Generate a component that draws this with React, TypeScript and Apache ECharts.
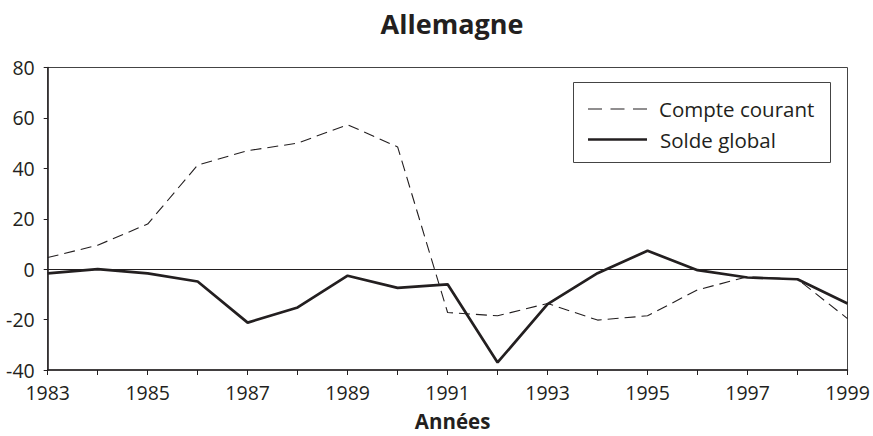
import React, { useEffect, useRef } from "react";
import * as echarts from "echarts";

const years = ["1983","1984","1985","1986","1987","1988","1989","1990","1991","1992","1993","1994","1995","1996","1997","1998","1999"];
const compteCourant = [4.6, 9.5, 17.9, 41.3, 47, 50, 57.3, 48.5, -17.2, -18.5, -13.6, -20.2, -18.5, -8.2, -3, -4, -19.6];
const soldeGlobal = [-1.7, 0, -1.7, -4.9, -21.2, -15.2, -2.6, -7.4, -6, -37, -13.9, -1.6, 7.3, -0.4, -3.3, -4, -13.6];
const yTicks = { min: -40, max: 80, interval: 20 };
const title = "Allemagne";
const xTitle = "Années";
const seriesNames = ["Compte courant", "Solde global"];

const FONT = "'Open Sans', 'Noto Sans', sans-serif";
const INK = "#231f20";

export default function App() {
  const ref = useRef<HTMLDivElement>(null);
  useEffect(() => {
    if (!ref.current) return;
    const chart = echarts.init(ref.current, null, { renderer: "svg" });
    chart.setOption({
      animation: false,
      backgroundColor: "#fff",
      title: {
        text: title,
        left: 447,
        textAlign: "center",
        top: 5,
        textStyle: { fontFamily: FONT, fontSize: 27, fontWeight: "bold", color: INK },
      },
      grid: { left: 47.7, right: 25.5, top: 67.5, bottom: 66, show: true, borderColor: "#444", borderWidth: 1, outerBoundsMode: "none", containLabel: false },
      xAxis: {
        type: "category",
        data: years,
        boundaryGap: false,
        name: xTitle,
        nameLocation: "middle",
        nameGap: 40,
        nameTextStyle: { fontFamily: FONT, fontSize: 20.5, lineHeight: 21, fontWeight: "bold", color: INK, padding: [0, 0, 0, 10] },
        axisLine: { onZero: false, lineStyle: { color: INK, width: 1.5 } },
        axisTick: { show: true, inside: false, length: 5, interval: 0, lineStyle: { color: INK } },
        axisLabel: { interval: 1, fontFamily: FONT, fontSize: 19.5, color: INK, margin: 12 },
        splitLine: { show: false },
      },
      yAxis: {
        type: "value",
        min: yTicks.min,
        max: yTicks.max,
        interval: yTicks.interval,
        axisLine: { show: true, lineStyle: { color: INK, width: 1.5 } },
        axisTick: { show: true, length: 4, lineStyle: { color: INK } },
        axisLabel: { fontFamily: FONT, fontSize: 19.5, color: INK, margin: 13 },
        splitLine: { show: false },
      },
      series: [
        {
          name: seriesNames[0],
          type: "line",
          data: compteCourant,
          symbol: "none",
          lineStyle: { color: INK, width: 1.1, type: [11, 6] },
          markLine: {
            silent: true,
            symbol: "none",
            label: { show: false },
            lineStyle: { color: INK, width: 1, type: "solid" },
            data: [{ yAxis: 0 }],
          },
          z: 2,
        },
        {
          name: seriesNames[1],
          type: "line",
          data: soldeGlobal,
          symbol: "none",
          lineStyle: { color: INK, width: 2.7, type: "solid" },
          z: 3,
        },
      ],
      graphic: [
        {
          type: "rect",
          shape: { x: 573.5, y: 82.5, width: 257, height: 80 },
          style: { fill: "#fff", stroke: "#444", lineWidth: 1 },
          z: 10,
        },
        {
          type: "line",
          shape: { x1: 588, y1: 109, x2: 647, y2: 109 },
          style: { stroke: INK, lineWidth: 1.1, lineDash: [14, 8.5] },
          z: 11,
        },
        {
          type: "line",
          shape: { x1: 588, y1: 139.5, x2: 647, y2: 139.5 },
          style: { stroke: INK, lineWidth: 2.7 },
          z: 11,
        },
        {
          type: "text",
          x: 659,
          y: 109,
          style: { text: seriesNames[0], fontFamily: FONT, fontSize: 20.5, fill: INK, verticalAlign: "middle" },
          z: 11,
        },
        {
          type: "text",
          x: 660,
          y: 140,
          style: { text: seriesNames[1], fontFamily: FONT, fontSize: 20.5, fill: INK, verticalAlign: "middle" },
          z: 11,
        },
      ],
    });
    return () => chart.dispose();
  }, []);
  return <div ref={ref} style={{ width: 873, height: 436, position: "absolute", left: 0, top: 0 }} />;
}
